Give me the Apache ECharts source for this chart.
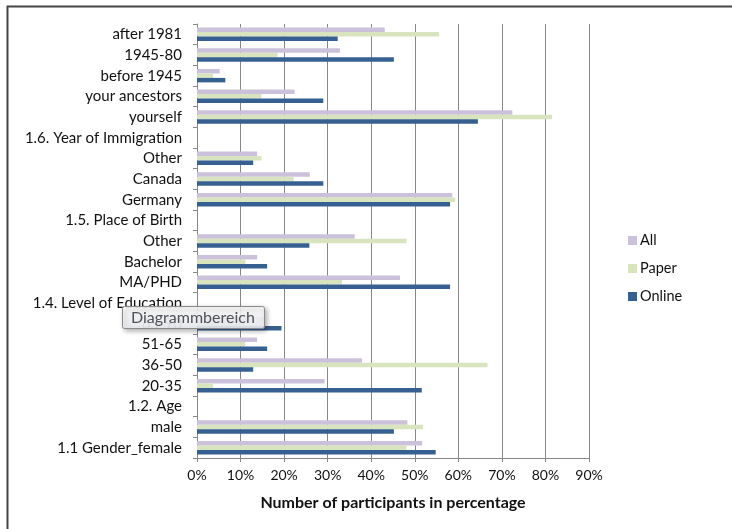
<!DOCTYPE html>
<html>
<head>
<meta charset="utf-8">
<script src="https://cdn.jsdelivr.net/npm/echarts@6/dist/echarts.min.js"></script>
<style>
  html, body { margin: 0; padding: 0; background: #fff; }
  #chart { width: 732px; height: 529px; }
</style>
</head>
<body>
<div id="chart"></div>
<script>
// Survey answers, top row first
const categories = [
  'after 1981', '1945-80', 'before 1945', 'your ancestors', 'yourself',
  '1.6. Year of Immigration',
  'Other', 'Canada', 'Germany',
  '1.5. Place of Birth',
  'Other', 'Bachelor', 'MA/PHD',
  '1.4. Level of Education',
  '65-90', '51-65', '36-50', '20-35',
  '1.2. Age',
  'male', '1.1 Gender_female'
];

// Share of participants (%)
const allValues    = [43.1, 32.8, 5.2, 22.4, 72.4, null, 13.8, 25.9, 58.6, null, 36.2, 13.8, 46.6, null, 15.5, 13.8, 37.9, 29.3, null, 48.3, 51.7];
const paperValues  = [55.6, 18.5, 3.7, 14.8, 81.5, null, 14.8, 22.2, 59.3, null, 48.1, 11.1, 33.3, null, 11.1, 11.1, 66.7, 3.7, null, 51.9, 48.1];
const onlineValues = [32.3, 45.2, 6.5, 29.0, 64.5, null, 12.9, 29.0, 58.1, null, 25.8, 16.1, 58.1, null, 19.4, 16.1, 12.9, 51.6, null, 45.2, 54.8];

const xTicks = { min: 0, max: 90, interval: 10 };

const FONT = 'Lato';
const GRID_COLOR = '#878787';

const chart = echarts.init(document.getElementById('chart'), null, { renderer: 'canvas' });

const barStyle = (color) => ({
  type: 'bar',
  barGap: '0%',
  barCategoryGap: '35%',
  itemStyle: { color: color },
  emphasis: { disabled: true }
});

chart.setOption({
  animation: false,
  textStyle: { fontFamily: FONT },
  grid: { left: 197, right: 143, top: 24, bottom: 71, containLabel: false },
  legend: {
    orient: 'vertical',
    left: 628,
    top: 233,
    padding: 0,
    itemWidth: 9,
    itemHeight: 9,
    itemGap: 13,
    icon: 'rect',
    textStyle: { fontFamily: FONT, fontSize: 14.5, color: '#111', padding: [0, 0, 0, -2] },
    data: ['All', 'Paper', 'Online']
  },
  xAxis: {
    type: 'value',
    min: xTicks.min,
    max: xTicks.max,
    interval: xTicks.interval,
    name: 'Number of participants in percentage',
    nameLocation: 'middle',
    nameGap: 37,
    nameTextStyle: { fontFamily: FONT, fontSize: 16, fontWeight: 'bold', color: '#111' },
    axisLine: { show: true, lineStyle: { color: GRID_COLOR, width: 1 } },
    axisTick: { show: true, length: 4, lineStyle: { color: GRID_COLOR } },
    axisLabel: { formatter: '{value}%', fontFamily: FONT, fontSize: 14, color: '#111', margin: 10 },
    splitLine: { show: true, lineStyle: { color: GRID_COLOR, width: 1 } }
  },
  yAxis: {
    type: 'category',
    inverse: true,
    data: categories,
    axisLine: { show: true, lineStyle: { color: GRID_COLOR, width: 1 } },
    axisTick: { show: true, length: 4, alignWithLabel: false, lineStyle: { color: GRID_COLOR } },
    axisLabel: { fontFamily: FONT, fontSize: 15, color: '#111', margin: 15, interval: 0 },
    splitLine: { show: false }
  },
  series: [
    Object.assign(barStyle('#ccc1da'), { name: 'All', data: allValues }),
    Object.assign(barStyle('#d7e4bd'), { name: 'Paper', data: paperValues }),
    Object.assign(barStyle('#376092'), { name: 'Online', data: onlineValues })
  ],
  graphic: [
    // outer chart-area frame
    {
      type: 'rect',
      shape: { x: 7.5, y: 6.5, width: 760, height: 560 },
      style: { fill: 'none', stroke: '#444', lineWidth: 2 },
      silent: true,
      z: 100
    },
    // hover hint box
    {
      type: 'rect',
      shape: { x: 122.5, y: 306.5, width: 142, height: 22, r: 2 },
      style: {
        fill: new echarts.graphic.LinearGradient(0, 0, 0, 1, [
          { offset: 0, color: 'rgba(255,255,255,0.88)' },
          { offset: 1, color: 'rgba(238,240,244,0.9)' }
        ]),
        stroke: '#8a8a8a',
        lineWidth: 1,
        shadowBlur: 5,
        shadowOffsetX: 2,
        shadowOffsetY: 2,
        shadowColor: 'rgba(0,0,0,0.35)'
      },
      silent: true,
      z: 200
    },
    {
      type: 'text',
      x: 131,
      y: 318,
      style: {
        text: 'Diagrammbereich',
        fontFamily: FONT,
        fontSize: 16,
        fill: '#50505a',
        verticalAlign: 'middle'
      },
      silent: true,
      z: 201
    }
  ]
});
</script>
</body>
</html>
